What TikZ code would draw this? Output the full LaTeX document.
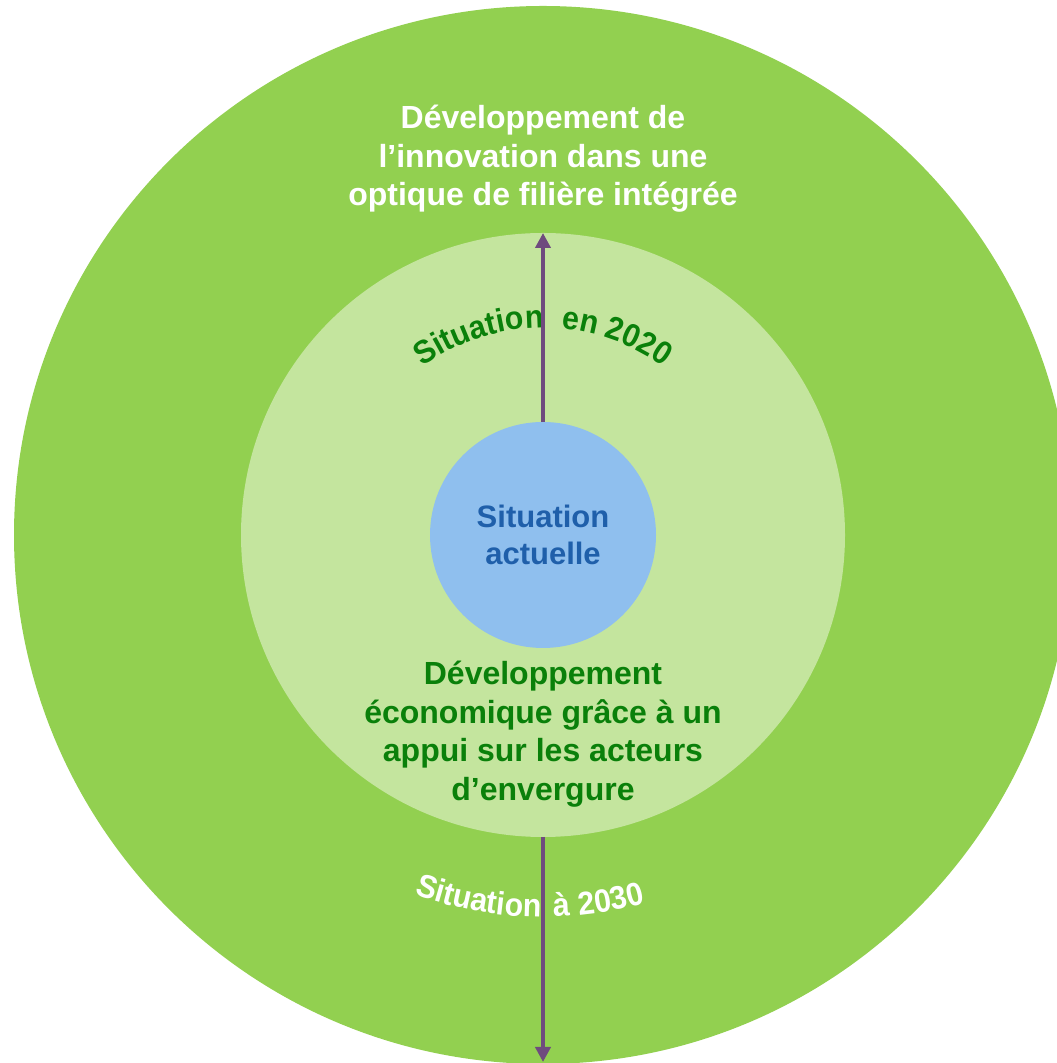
\documentclass[tikz,border=0pt]{standalone}
\usepackage{fontspec}
\setmainfont{Liberation Sans}
\newfontfamily\arcfont[FakeStretch=0.93]{Liberation Sans}
\usetikzlibrary{arrows.meta,decorations.text}
\definecolor{outerg}{HTML}{92D050}
\definecolor{midg}{HTML}{C4E59E}
\definecolor{innerb}{HTML}{8FBFEE}
\definecolor{txtb}{HTML}{1F5FAA}
\definecolor{txtg}{HTML}{0A800A}
\definecolor{arrp}{HTML}{6F4B7E}
\tikzset{
  disc/.style={circle, inner sep=0pt, outer sep=0pt, draw=none},
  arr/.style={draw=arrp, line width=4.2pt, -{Triangle[width=15pt,length=15pt]}},
  bigtxt/.style={align=center, font=\bfseries\fontsize{32}{38.5}\selectfont},
}
\begin{document}
\begin{tikzpicture}[x=1pt,y=1pt]
\clip (0,0) rectangle (1057,1063);
\fill[white] (0,0) rectangle (1057,1063);
\node[disc, fill=outerg, minimum size=1058pt] (outer) at (543,528) {};
\node[disc, fill=midg, minimum size=604pt] (mid) at (543,528) {};
\node[disc, fill=innerb, minimum size=226pt, text=txtb,
      align=center, font=\bfseries\fontsize{31}{37}\selectfont] (inner) at (543,528) {Situation\\actuelle};
\node[bigtxt, text=white] (toptext) at (543,904) {Développement de\\l’innovation dans une\\optique de filière intégrée};
\node[bigtxt, text=txtg] (midtext) at (543,329) {Développement\\économique grâce à un\\appui sur les acteurs\\d’envergure};
% curved labels, top (clockwise)
\path[decorate, decoration={text along path, text align=center, text color=txtg,
  text={|\arcfont\bfseries\fontsize{32.5}{40}\selectfont|Situation}}]
  (543,528) ++(127.7:207) arc[start angle=127.7, end angle=87.7, radius=207];
\path[decorate, decoration={text along path, text align=center, text color=txtg,
  text={|\arcfont\bfseries\fontsize{32.5}{40}\selectfont|en}}]
  (543,528) ++(90:207) arc[start angle=90, end angle=70, radius=207];
\path[decorate, decoration={text along path, text align=center, text color=txtg,
  text={|\arcfont\bfseries\fontsize{32.5}{40}\selectfont|2020}}]
  (543,528) ++(78.65:207) arc[start angle=78.65, end angle=48.65, radius=207];
% curved labels, bottom (counterclockwise)
\path[decorate, decoration={text along path, text align=center, text color=white,
  text={|\arcfont\bfseries\fontsize{32.5}{40}\selectfont|Situation}}]
  (543,528) ++(245:382) arc[start angle=245, end angle=275, radius=382];
\path[decorate, decoration={text along path, text align=center, text color=white,
  text={|\arcfont\bfseries\fontsize{32.5}{40}\selectfont|à}}]
  (543,528) ++(267.8:382) arc[start angle=267.8, end angle=277.8, radius=382];
\path[decorate, decoration={text along path, text align=center, text color=white,
  text={|\arcfont\bfseries\fontsize{32.5}{40}\selectfont|2030}}]
  (543,528) ++(272.55:382) arc[start angle=272.55, end angle=288.55, radius=382];
% arrows
\coordinate (bottomend) at (543,1);
\draw[arr] (inner.north) -- (mid.north);
\draw[arr] (mid.south) -- (bottomend);
\end{tikzpicture}
\end{document}
